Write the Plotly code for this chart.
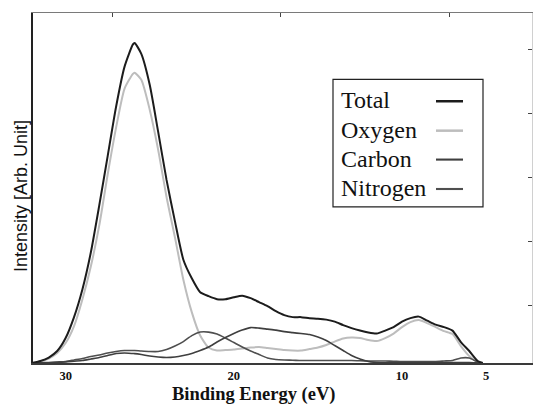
import plotly.graph_objects as go

# Binding energy grid (eV)
energy = [32, 31.5, 31, 30.5, 30, 29.5, 29, 28.5, 28, 27.5, 27, 26.5, 26, 25.9, 25.5, 25,
          24.5, 24, 23.5, 23, 22.5, 22, 21.5, 21, 20.5, 20, 19.5, 19, 18.5, 18, 17.5, 17,
          16.5, 16, 15.5, 15, 14.5, 14, 13.5, 13, 12.5, 12, 11.5, 11, 10.5, 10, 9.5, 9,
          8.5, 8, 7.5, 7, 6.5, 6, 5.5, 5.2]

# Intensities (arbitrary units)
total = [0, 2, 5.5, 12, 25, 46, 74, 111, 158, 207.5, 257, 297, 319.5, 321, 310, 279,
         232, 183.6, 142, 103.6, 85, 71, 67, 64, 64, 66, 67.5, 65, 61, 57, 52, 48,
         46, 46, 45, 44.5, 43.5, 41.5, 38, 35, 32.5, 30.5, 29.5, 32.5, 36, 41.5, 45, 46.5,
         42.5, 38.5, 36, 32.5, 21, 12, 2, 0]
oxygen = [0, 1.5, 4.5, 10, 20, 37, 64, 97, 138, 189, 236, 275, 290, 291.2, 284, 254,
          214, 166.5, 126, 83.5, 51, 27.5, 15.5, 12.5, 13, 13.5, 14.5, 15.5, 16, 15, 14, 13,
          12.5, 12.5, 14, 15.5, 18, 21.5, 24.5, 25.5, 25, 23, 22, 25, 29.5, 36, 41, 43,
          40, 36, 32, 29, 17, 7, 1, 0]
carbon = [0, 0.1, 0.3, 0.6, 1, 1.8, 2.5, 4, 5.5, 7.5, 9.5, 10, 9.5, 9.4, 8.5, 7,
          6, 5.5, 6, 7.5, 9.5, 12.5, 16, 21, 25.5, 29.5, 33, 35.5, 35, 34, 33, 31.5,
          30.5, 29.5, 28.5, 26, 22.5, 17.5, 12.5, 7.5, 4, 1.5, 0.5, 0.3, 0.4, 0.5, 0.5, 0.5,
          0.5, 0.5, 0.5, 0.5, 0.5, 0.4, 0.2, 0]
nitrogen = [0, 0.2, 0.5, 1, 1.5, 3, 4.5, 6.5, 8, 10, 11.5, 12.5, 12.5, 12.5, 12, 11.5,
            11.5, 13.5, 17, 21.5, 27.5, 31, 31, 29, 25, 20.5, 16, 12, 8.5, 5, 3.5, 3,
            2.8, 2.5, 2.5, 2.5, 2.5, 2.5, 2.5, 2.5, 2.2, 2, 2, 2, 1.8, 1.5, 1.5, 1.5,
            1.5, 1.5, 2, 2.5, 5, 5, 1, 0]

series_names = ["Total", "Oxygen", "Carbon", "Nitrogen"]
series_colors = ["#1c1c1c", "#bdbdbd", "#3f3f3f", "#4f4f4f"]
series_widths = [2.0, 2.0, 1.6, 1.6]
series_values = [total, oxygen, carbon, nitrogen]

xtick_vals = [30, 20, 10, 5]
xtick_text = ["30", "20", "10", "5"]
top_tick_vals = [27.2, 17.2, 7.2]
right_tick_vals = [58, 122, 186, 250, 314]

# plot-area pixel geometry (533 x 405 canvas)
L, R, T, B = 33, 532, 12.5, 363.5
W, H = 533, 405


def px(xp):
    return (xp - L) / (R - L)


def py(yp):
    return (B - yp) / (B - T)


fig = go.Figure()
# draw order: light oxygen first, then others; total is drawn on the overlay axes (on top)
for i in [1, 3, 2, 0]:
    on_overlay = (i == 0)
    fig.add_trace(go.Scatter(
        x=energy, y=series_values[i], mode="lines", name=series_names[i],
        xaxis="x2" if on_overlay else "x", yaxis="y2" if on_overlay else "y",
        line=dict(color=series_colors[i], width=series_widths[i],
                  shape="spline", smoothing=0.6),
        showlegend=False, hoverinfo="skip"))

fig.update_layout(
    width=W, height=H,
    margin=dict(l=L, r=W - R, t=T, b=H - B),
    paper_bgcolor="white", plot_bgcolor="white",
    showlegend=False,
    xaxis=dict(range=[31.94, 2.27], tickvals=xtick_vals, ticktext=xtick_text,
               ticks="", showgrid=False, zeroline=False,
               showline=True, linecolor="#3a3a3a", linewidth=2,
               tickfont=dict(family="Liberation Serif", size=12.5, color="#111", weight="bold")),
    yaxis=dict(range=[0, 351], showticklabels=False, ticks="", showgrid=False,
               zeroline=False, showline=True, linecolor="#222", linewidth=1.5),
    xaxis2=dict(range=[31.94, 2.27], overlaying="x", side="top", anchor="y2",
                tickvals=top_tick_vals, ticks="inside", ticklen=4, tickcolor="#444",
                showticklabels=False, showgrid=False, zeroline=False,
                showline=True, linecolor="#7a7a7a", linewidth=1.2),
    yaxis2=dict(range=[0, 351], overlaying="y", side="right", anchor="x2",
                tickvals=right_tick_vals, ticks="inside", ticklen=4, tickcolor="#444",
                showticklabels=False, showgrid=False, zeroline=False,
                showline=True, linecolor="#d0d0d0", linewidth=1),
)

annotations = [
    dict(text="<b>Binding Energy (eV)</b>", x=px(253), y=py(395), xref="paper", yref="paper",
         xanchor="center", yanchor="middle", showarrow=False, borderpad=0,
         font=dict(family="Liberation Serif", size=18.5, color="#111")),
    dict(text="Intensity [Arb. Unit]", x=px(21), y=py(196), xref="paper", yref="paper",
         xanchor="center", yanchor="middle", showarrow=False, textangle=-90,
         font=dict(family="Liberation Sans", size=18, color="#111")),
]
shapes = [
    dict(type="rect", xref="paper", yref="paper", x0=px(333), x1=px(483), y0=py(79), y1=py(207),
         line=dict(color="#222", width=1.2), fillcolor="white", layer="above"),
]
rows = [100, 129.5, 158.5, 188]
for name, color, width, row in zip(series_names, series_colors, series_widths, rows):
    annotations.append(dict(text=name, x=px(339), y=py(row), xref="paper", yref="paper",
                            xanchor="left", yanchor="middle", showarrow=False,
                            font=dict(family="Liberation Serif", size=24, color="#111")))
    shapes.append(dict(type="line", xref="paper", yref="paper", x0=px(436), x1=px(463),
                       y0=py(row + 1), y1=py(row + 1),
                       line=dict(color=color, width=width + 0.5)))

fig.update_layout(annotations=annotations, shapes=shapes)
fig.write_html("out.html", config={"displayModeBar": False},
               post_script="document.body.style.margin='0';document.body.style.padding='0';")
